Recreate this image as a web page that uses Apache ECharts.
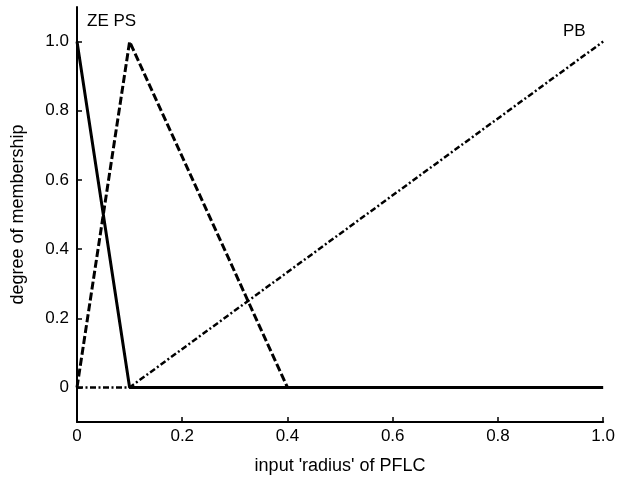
<!DOCTYPE html>
<html>
<head>
<meta charset="utf-8">
<script src="https://cdn.jsdelivr.net/npm/echarts@6/dist/echarts.min.js"></script>
<style>
html,body{margin:0;padding:0;background:#fff;}
#c{width:618px;height:482px;}
</style>
</head>
<body>
<div id="c"></div>
<script>
const zeData = [[0, 1], [0.1, 0], [1, 0]];
const psData = [[0, 0], [0.1, 1], [0.4, 0]];
const pbData = [[0, 0], [0.1, 0], [1, 1]];
const xTicks = [0, 0.2, 0.4, 0.6, 0.8, 1.0];
const yTicks = [0, 0.2, 0.4, 0.6, 0.8, 1.0];
const labelZEPS = 'ZE PS';
const labelPB = 'PB';
const xName = "input 'radius' of PFLC";
const yName = 'degree of membership';

const font = 'Liberation Sans, Arial, sans-serif';
const chart = echarts.init(document.getElementById('c'));
chart.setOption({
  animation: false,
  backgroundColor: '#fff',
  grid: {left: 77, right: 12, top: 7, bottom: 60, containLabel: false},
  xAxis: {
    type: 'value', min: 0, max: 1.0,
    name: xName, nameLocation: 'middle', nameGap: 35,
    nameTextStyle: {fontFamily: font, fontSize: 18, color: '#000'},
    axisLine: {show: true, onZero: false, lineStyle: {color: '#000', width: 2}},
    axisTick: {show: true, inside: true, length: 5, customValues: xTicks, lineStyle: {color: '#000', width: 1.5}},
    axisLabel: {customValues: xTicks, fontFamily: font, fontSize: 17, color: '#000', margin: 6,
      formatter: v => v === 0 ? '0' : v.toFixed(1)},
    splitLine: {show: false}
  },
  yAxis: {
    type: 'value', min: -0.1, max: 1.1,
    name: yName, nameLocation: 'middle', nameGap: 50, nameRotate: 90,
    nameTextStyle: {fontFamily: font, fontSize: 18, color: '#000'},
    axisLine: {show: true, onZero: false, lineStyle: {color: '#000', width: 2}},
    axisTick: {show: true, inside: true, length: 5, customValues: yTicks, lineStyle: {color: '#000', width: 1.5}},
    axisLabel: {customValues: yTicks, fontFamily: font, fontSize: 17, color: '#000', margin: 8,
      formatter: v => v === 0 ? '0' : v.toFixed(1)},
    splitLine: {show: false}
  },
  graphic: [
    {type: 'text', left: 87, top: 13, style: {text: labelZEPS, font: '17px ' + font, fill: '#000'}},
    {type: 'text', left: 563, top: 23, style: {text: labelPB, font: '17px ' + font, fill: '#000'}}
  ],
  series: [
    {name: 'PB', type: 'line', data: pbData, symbol: 'none', z: 2,
      lineStyle: {color: '#000', width: 2.5, type: [6, 2.5, 2, 2.5]}},
    {name: 'PS', type: 'line', data: psData, symbol: 'none', z: 3,
      lineStyle: {color: '#000', width: 3, type: [8, 3]}},
    {name: 'ZE', type: 'line', data: zeData, symbol: 'none', z: 4,
      lineStyle: {color: '#000', width: 3, type: 'solid'}}
  ]
});
</script>
</body>
</html>
